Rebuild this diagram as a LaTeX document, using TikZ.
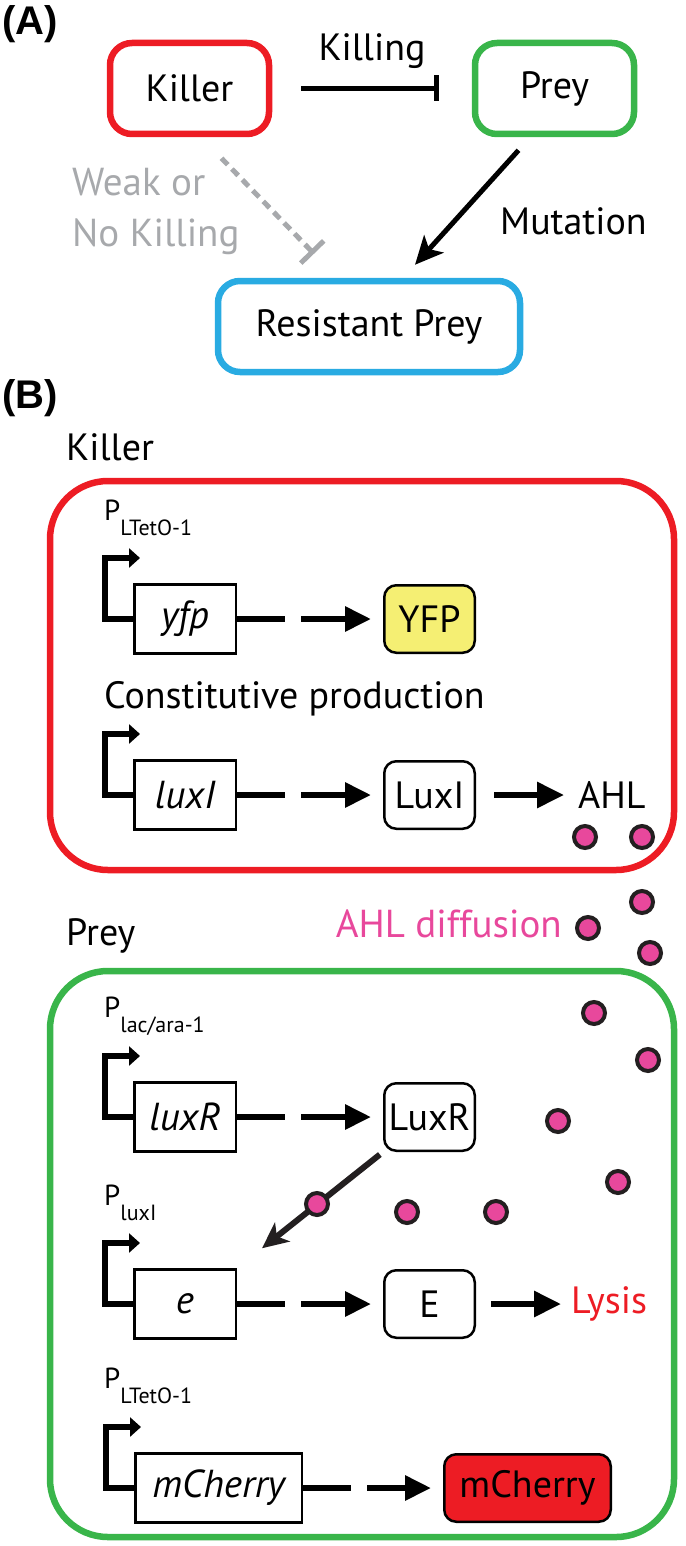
\documentclass[tikz,border=0pt]{standalone}
\usepackage{fontspec}
\setmainfont{PT Sans}
\newfontfamily\panelfont{Liberation Sans}
\usetikzlibrary{arrows.meta,positioning,calc}
\definecolor{killred}{HTML}{ED1C24}
\definecolor{preygreen}{HTML}{39B54A}
\definecolor{resblue}{HTML}{29ABE2}
\definecolor{weakgrey}{HTML}{A7A9AC}
\definecolor{ahlpink}{HTML}{E8489C}
\definecolor{dotedge}{HTML}{231F20}
\definecolor{yfpyellow}{HTML}{F5EF73}
\newcommand{\promlabel}[1]{P\raisebox{-15pt}{\fontsize{22}{26}\selectfont #1}}
\tikzset{
  lab/.style={font=\fontsize{38}{46}\selectfont,inner sep=0pt},
  panellab/.style={font=\panelfont\bfseries\fontsize{40}{48}\selectfont,inner sep=0pt,anchor=north west},
  plab/.style={font=\fontsize{29}{34}\selectfont,inner sep=0pt,anchor=base west},
  cell/.style={draw,line width=6.5pt,rounded corners=22pt,minimum width=159pt,
               minimum height=91pt,font=\fontsize{38}{46}\selectfont},
  bigcell/.style={draw,line width=6.5pt,rounded corners=58pt,inner sep=0pt},
  gene/.style={draw,line width=2.5pt,minimum width=101.5pt,minimum height=69pt,
               inner sep=0pt,font=\fontsize{39}{46}\selectfont\itshape},
  prot/.style={draw,line width=2.5pt,rounded corners=12pt,minimum width=90.5pt,
               minimum height=67.5pt,inner sep=0pt,font=\fontsize{38}{46}\selectfont},
  prom/.style={line width=6pt,-{Triangle[length=11pt,width=19pt]}},
  express/.style={line width=6pt,dash pattern=on 48pt off 16pt on 400pt off 0pt,
               shorten >=12pt,-{Triangle[length=26pt,width=24pt]}},
  act/.style={line width=6pt,-{Triangle[length=27pt,width=25pt]}},
  bind/.style={line width=6pt,draw=dotedge,-{Stealth[length=26pt,width=24pt,inset=7pt]}},
  ahl/.style={circle,draw=dotedge,fill=ahlpink,line width=4pt,minimum size=22pt,inner sep=0pt}
}
\begin{document}
\begin{tikzpicture}[x=1pt,y=-1pt]
  \useasboundingbox (0,0) rectangle (685,1546);

  % (A) interactions
  \node[panellab] (labA) at (2,5) {(A)};
  \node[cell,draw=killred] (killerA) at (189.5,88.5) {Killer};
  \node[cell,draw=preygreen] (preyA) at (554.5,88.5) {Prey};
  \node[cell,draw=resblue,minimum width=302pt] (resA) at (369,326.5) {Resistant Prey};
  \draw[line width=5pt,-{Bar[width=26pt]},shorten <=29pt,shorten >=33pt]
    (killerA) -- (preyA) node[midway,above=17pt,lab] {Killing};
  \draw[line width=5pt,-{Stealth[length=28pt,width=26pt,inset=7pt]}]
    ($(preyA.south)+(-36,13)$) -- ($(resA.north)+(46,-13)$);
  \node[lab,anchor=base west] (mutlab) at (500,235) {Mutation};
  \draw[line width=5pt,draw=weakgrey,dash pattern=on 9pt off 6pt,-{Bar[width=32pt]}]
    ($(killerA.south)+(32,21)$) -- ($(resA.north)+(-55,-24)$);
  \node[lab,font=\fontsize{39}{51}\selectfont,text=weakgrey,align=left,anchor=north west]
    (weaklab) at (72,168) {Weak or\\No Killing};

  % (B) circuits
  \node[panellab] (labB) at (2,379) {(B)};
  \node[lab,anchor=base west] (killtitle) at (66,460) {Killer};
  \node[bigcell,draw=killred,minimum width=624pt,minimum height=389pt] (killcell) at (362,675.5) {};
  \node[lab,anchor=base west] (preytitle) at (66,945) {Prey};
  \node[bigcell,draw=preygreen,minimum width=624pt,minimum height=566pt] (preycell) at (362,1254) {};

  \node[gene] (genYfp) at (185,619) {yfp};
  \node[prot,fill=yfpyellow,right=146pt of genYfp] (prYfp) {YFP};
  \node[gene] (genLuxI) at (185,795) {luxI};
  \node[prot,right=146pt of genLuxI] (prLuxI) {LuxI};
  \node[lab,right=102pt of prLuxI] (ahlText) {AHL};
  \node[gene] (genLuxR) at (185,1117) {luxR};
  \node[prot,right=146pt of genLuxR] (prLuxR) {LuxR};
  \node[gene] (genE) at (185,1304) {e};
  \node[prot,right=146pt of genE] (prE) {E};
  \node[lab,text=killred,right=95pt of prE] (lysis) {Lysis};
  \node[gene,minimum width=166.5pt] (genCherry) at (218.5,1488) {mCherry};
  \node[prot,fill=killred,minimum width=166.5pt,right=140pt of genCherry] (prCherry) {mCherry};

  \node[plab] (pTetK) at (104,520) {\promlabel{LTetO-1}};
  \node[lab,anchor=base west] (constit) at (104,708) {Constitutive production};
  \node[plab] (pLac) at (104,1017) {\promlabel{lac/ara-1}};
  \node[plab] (pLux) at (104,1205) {\promlabel{luxI}};
  \node[plab] (pTetP) at (104,1388) {\promlabel{LTetO-1}};
  \node[lab,text=ahlpink,anchor=base east,font=\fontsize{39}{46}\selectfont] (diffusion) at (562,937) {AHL diffusion};

  \foreach \g in {genYfp,genLuxI,genLuxR,genE,genCherry}
    \draw[prom] (\g.west) -- ++(-28,0) |- ++(35,-61);
  \draw[express] (genYfp) -- (prYfp);
  \draw[express] (genLuxI) -- (prLuxI);
  \draw[express] (genLuxR) -- (prLuxR);
  \draw[express] (genE) -- (prE);
  \draw[express] (genCherry) -- (prCherry);
  \draw[act,shorten <=18pt,shorten >=14pt] (prLuxI) -- (ahlText);
  \draw[act,shorten <=15pt,shorten >=10pt] (prE) -- (lysis);
  \draw[bind,shorten <=4pt] (prLuxR.south west) -- ($(genE.north east)+(25,-20)$);

  % AHL molecules
  \foreach \x/\y [count=\i] in {585/837,642/837,642/902,588/928,650/953,594/1013,
      648/1060,558/1121,618/1182,407/1212,496/1212,317/1204}
    \node[ahl] (ahl\i) at (\x,\y) {};
\end{tikzpicture}
\end{document}
